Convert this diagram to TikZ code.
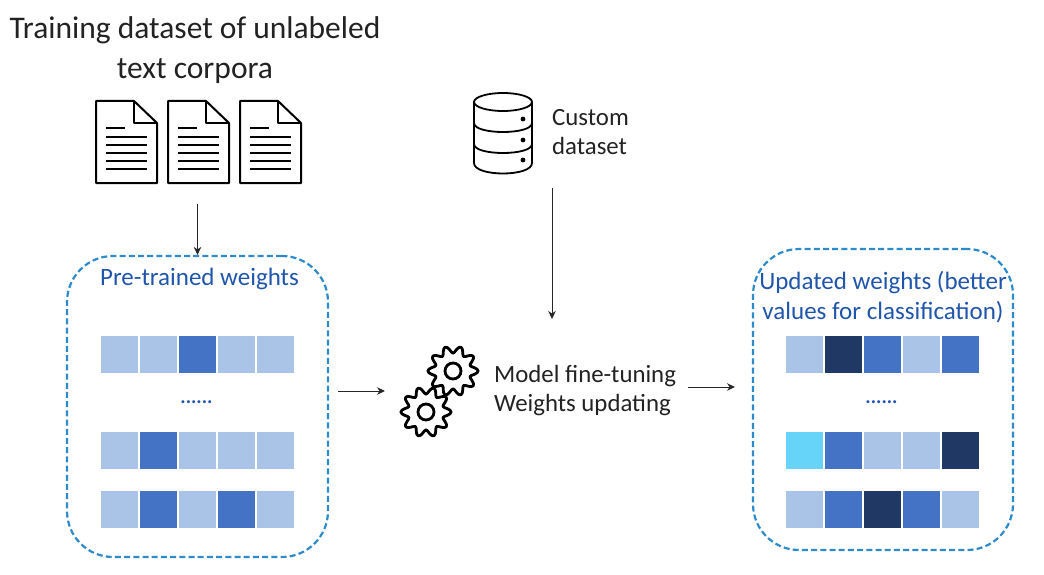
\documentclass[tikz,border=0pt]{standalone}
\usepackage{fontspec}
\setmainfont{Carlito}
\usetikzlibrary{positioning}
\usetikzlibrary{arrows.meta}
\definecolor{sqlight}{HTML}{A9C4E6}
\definecolor{sqmid}{HTML}{4472C4}
\definecolor{sqdark}{HTML}{203864}
\definecolor{sqcyan}{HTML}{66D3F8}
\definecolor{textblue}{HTML}{1F55AA}
\definecolor{dashblue}{HTML}{2E8BCB}
\definecolor{textdark}{HTML}{222222}
\tikzset{
        % Weight squares
        sq/.style={rectangle, inner sep=0pt, minimum size=37pt},
        sq_l/.style={sq, fill=sqlight},
        sq_m/.style={sq, fill=sqmid},
        sq_d/.style={sq, fill=sqdark},
        sq_c/.style={sq, fill=sqcyan},
        % Dashed weight boxes
        weight_box/.style={rectangle, rounded corners=46pt, draw=dashblue, line width=2.2pt, dash pattern=on 6pt off 3.2pt, inner sep=0pt},
        % Texts
        label_black/.style={align=left, inner sep=0pt, text=textdark, font=\fontsize{24.8}{29}\selectfont},
        label_blue/.style={align=center, inner sep=0pt, text=textblue, font=\fontsize{25}{30}\selectfont},
        dots_blue/.style={inner sep=0pt, text=textblue, font=\fontsize{20}{20}\selectfont\bfseries},
        flow/.style={-{Stealth[length=8pt,width=7.5pt]}, line width=1pt, black!85},
        % Icons
        doc_icon/.pic={
            \draw[line width=2pt, line join=round] (0,0) -- (38,0) -- (61,22) -- (61,82) -- (0,82) -- cycle;
            \draw[line width=2pt, line join=round] (38,0) -- (38,22) -- (61,22);
            \draw[line width=1.8pt] (10,27) -- (29,27);
            \foreach \ly in {36,44,52,60,68}
                \draw[line width=1.8pt] (10,\ly) -- (51,\ly);
        },
        gear_icon/.pic={
            \draw[line width=2.8pt, line join=round] plot[smooth cycle, samples=80, domain=0:355.5] (\x:{21.5+3.6*cos(10*\x)});
            \draw[line width=2.8pt] (0,0) circle (8pt);
        }
}
\begin{document}
\begin{tikzpicture}[x=1pt, y=-1pt]
    \useasboundingbox (0,0) rectangle (1044,575);

    \node[label_black, align=center, font=\fontsize{31.5}{40}\selectfont] (title) at (195,50) {Training dataset of unlabeled\\text corpora};

    % Documents
    \foreach \docx in {96,168,240}
        \pic at (\docx,101) {doc_icon};

    % Database
    \draw[line width=1.8pt] (474,102) -- (474,163) .. controls (474,177) and (532,177) .. (532,163) -- (532,102);
    \draw[line width=1.8pt] (503,102) ellipse (29pt and 9pt);
    \draw[line width=1.8pt] (474,123) .. controls (474,135) and (532,135) .. (532,123);
    \draw[line width=1.8pt] (474,144) .. controls (474,156) and (532,156) .. (532,144);
    \foreach \doty in {119,140,160}
        \fill (523,\doty) circle (2.4pt);
    \node[label_black, anchor=west] (custom) at (552,132) {Custom\\dataset};

    % Weight boxes
    \node[weight_box, minimum width=261pt, minimum height=301pt] (box_pre) at (197.5,406.5) {};
    \node[weight_box, minimum width=260pt, minimum height=301pt] (box_upd) at (883,399.5) {};
    \node[label_blue] (pre_title) at (199.5,279) {Pre-trained weights};
    \node[label_blue] (upd_title) at (883,297) {Updated weights (better\\values for classification)};

    % Pre-trained squares
    \foreach \rowname/\rowy/\cols in {a/354/{l,l,m,l,l}, b/450/{l,m,l,l,l}, c/509/{l,m,l,m,l}}
        \foreach \c [count=\i] in \cols
            \node[sq_\c] (pre_\rowname_\i) at (80.5+\i*39,\rowy) {};
    \node[dots_blue] (pre_dots) at (196.5,402) {......};

    % Updated squares
    \foreach \rowname/\rowy/\cols in {a/354/{l,d,m,l,m}, b/450/{c,m,l,l,d}, c/509/{l,m,d,m,l}}
        \foreach \c [count=\i] in \cols
            \node[sq_\c] (upd_\rowname_\i) at (765.5+\i*39,\rowy) {};
    \node[dots_blue] (upd_dots) at (881.5,402) {......};

    % Gears
    \pic at (453,371) {gear_icon};
    \pic at (426,412) {gear_icon};
    \node[label_black, anchor=west] (tuning) at (494,391) {Model fine-tuning\\Weights updating};

    % Connectors
    \coordinate (doc_out) at (197.5,204);
    \coordinate (custom_out) at (552,188);
    \coordinate (custom_in) at (552,319);
    \coordinate (pre_out) at (338,391);
    \coordinate (gear_in) at (385,391);
    \coordinate (tuning_out) at (688,387);
    \coordinate (upd_in) at (735,387);
    \draw[flow] (doc_out) -- (box_pre.north);
    \draw[flow] (custom_out) -- (custom_in);
    \draw[flow] (pre_out) -- (gear_in);
    \draw[flow] (tuning_out) -- (upd_in);
\end{tikzpicture}
\end{document}
